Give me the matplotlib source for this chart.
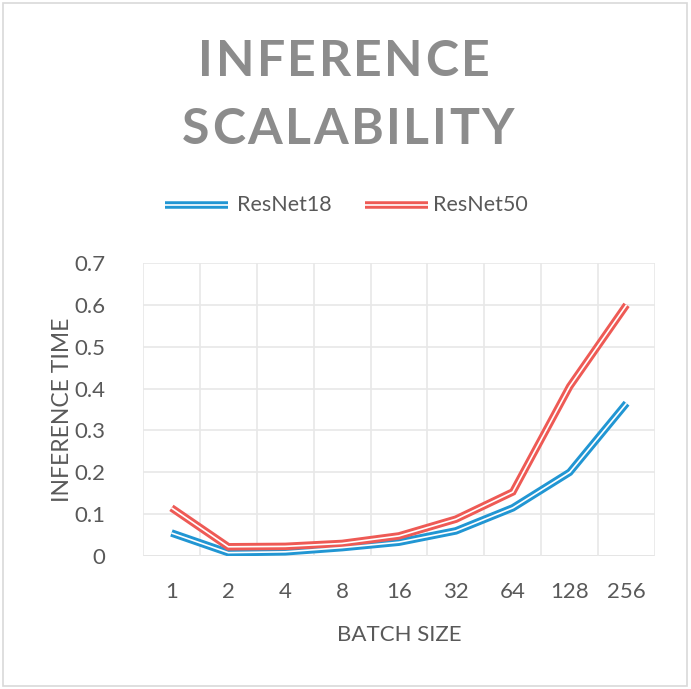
import matplotlib
matplotlib.use("Agg")
import matplotlib.pyplot as plt
from matplotlib.patches import Rectangle

batch_sizes = ["1", "2", "4", "8", "16", "32", "64", "128", "256"]
resnet18 = [0.055, 0.008, 0.010, 0.020, 0.033, 0.060, 0.115, 0.200, 0.365]
resnet50 = [0.115, 0.022, 0.023, 0.030, 0.048, 0.088, 0.153, 0.405, 0.600]
yticks = [0, 0.1, 0.2, 0.3, 0.4, 0.5, 0.6, 0.7]
ytick_labels = ["0", "0.1", "0.2", "0.3", "0.4", "0.5", "0.6", "0.7"]

BLUE = "#2196D3"
RED = "#EE5A55"
TXT = "#595959"
FONT = "Lato"

plt.rcParams['font.family'] = [FONT, 'DejaVu Sans']

fig = plt.figure(figsize=(6.91, 6.89), dpi=100)
fig.patches.append(Rectangle((3/691, 3/689), 684/691, 683/689, transform=fig.transFigure,
                             fill=False, edgecolor="#d9d9d9", lw=1.2))

ax = fig.add_axes([143/691, 1-556/689, (655-143)/691, (556-263)/689])
x = list(range(len(batch_sizes)))
for vals, col, name in [(resnet18, BLUE, "ResNet18"), (resnet50, RED, "ResNet50")]:
    ax.plot(x, vals, color=col, lw=5.4, solid_joinstyle="miter", solid_capstyle="butt", zorder=3)
    ax.plot(x, vals, color="white", lw=1.2, solid_joinstyle="miter", solid_capstyle="butt", zorder=4)

ax.set_xlim(-0.5, len(batch_sizes)-0.5)
ax.set_ylim(0, 0.7)
ax.set_yticks(yticks)
ax.set_yticklabels(ytick_labels)
ax.set_xticks(x)
ax.set_xticklabels(batch_sizes)
ax.set_xticks([i-0.5 for i in range(len(batch_sizes)+1)], minor=True)
ax.tick_params(axis='both', which='both', length=0, labelsize=16, colors=TXT)
ax.tick_params(axis='y', pad=27)
ax.tick_params(axis='x', pad=19)
ax.grid(True, which='major', axis='y', color="#e8e8e8", lw=1.2, zorder=0)
ax.grid(True, which='minor', axis='x', color="#e8e8e8", lw=1.2, zorder=0)
for s in ax.spines.values():
    s.set_visible(False)
ax.axhline(0, color="#d9d9d9", lw=1.3, zorder=1)
ax.set_xlabel("BATCH SIZE", fontsize=16, color=TXT, labelpad=16)
ax.set_ylabel("INFERENCE TIME", fontsize=16.5, color=TXT, labelpad=1)

# legend drawn manually
def leg_line(x0, x1, y, col):
    fig.lines.append(plt.Line2D([x0/691, x1/691], [1-y/689, 1-y/689], transform=fig.transFigure,
                                color=col, lw=5.4, solid_capstyle="butt"))
    fig.lines.append(plt.Line2D([x0/691, x1/691], [1-y/689, 1-y/689], transform=fig.transFigure,
                                color="white", lw=1.2, solid_capstyle="butt"))
leg_line(165, 228, 205, BLUE)
fig.text(237/691, 1-205/689, "ResNet18", fontsize=15.5, color=TXT, va="center", ha="left")
leg_line(365, 428, 205, RED)
fig.text(433/691, 1-205/689, "ResNet50", fontsize=15.5, color=TXT, va="center", ha="left")

# title with letter spacing
fig.canvas.draw()
renderer = fig.canvas.get_renderer()
def spaced_title(s, cx, cy, size, spacing_px):
    texts = []
    widths = []
    for ch in s:
        t = fig.text(0, 0, ch, fontsize=size, fontweight="bold", color="#8c8c8c",
                     va="center", ha="left")
        bb = t.get_window_extent(renderer)
        texts.append(t)
        widths.append(bb.width)
    total = sum(widths) + spacing_px*(len(s)-1)
    xpos = cx - total/2
    for t, w in zip(texts, widths):
        t.set_position((xpos/691, 1-cy/689))
        xpos += w + spacing_px
spaced_title("INFERENCE", 344, 62, 36, 2.5)
spaced_title("SCALABILITY", 348, 129, 36, 2.5)

fig.savefig("out.png", dpi=100)
